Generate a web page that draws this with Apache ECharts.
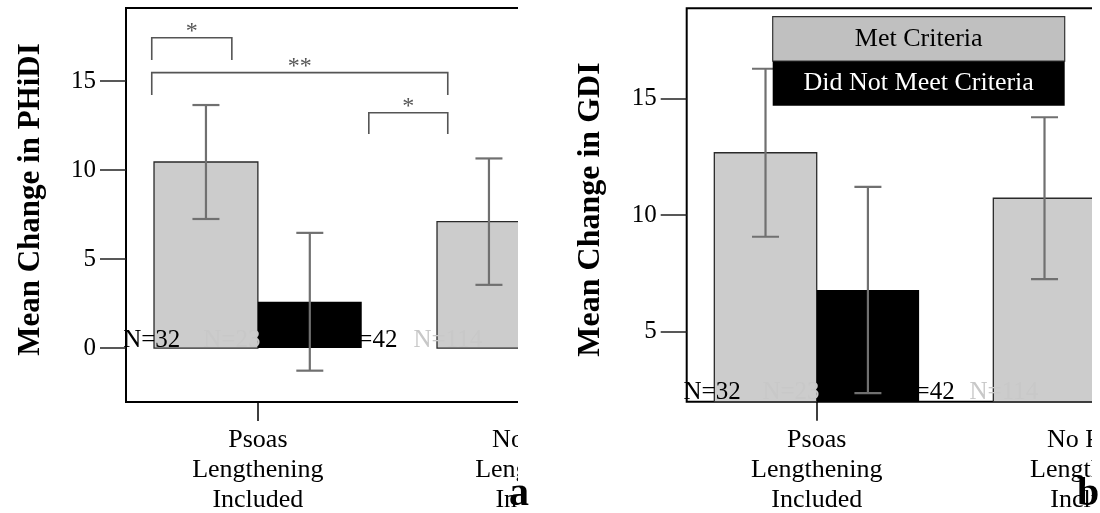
<!DOCTYPE html>
<html><head><meta charset="utf-8">
<script src="https://cdn.jsdelivr.net/npm/echarts@6/dist/echarts.min.js"></script>
<style>
html,body{margin:0;padding:0;background:#fff;}
#wrap{position:relative;width:1100px;height:513px;overflow:hidden;background:#fff}
.clip{position:absolute;top:0;height:513px;overflow:hidden}
#clipA{left:0;width:518px}
#clipB{left:550px;width:542px}
#chartA,#chartB{position:absolute;left:0;top:0;width:760px;height:513px}
#over{position:absolute;left:0;top:0;width:1100px;height:513px;pointer-events:none}
</style></head><body>
<div id="wrap">
 <div class="clip" id="clipA"><div id="chartA"></div></div>
 <div class="clip" id="clipB"><div id="chartB"></div></div>
 <div id="over"></div>
</div>
<script>
// ---------------- data ----------------
const groupPositions = [1, 2];
const groupLabels = ['Psoas\nLengthening\nIncluded', 'No Psoas\nLengthening\nIncluded'];
const seriesNames = ['Met Criteria', 'Did Not Meet Criteria'];

// Panel a: Mean change in PHiDI
const phidiMet = [10.45, 7.1];
const phidiMetErr = [3.2, 3.55];
const phidiNotMet = [2.6, null];      // second group hidden (cropped)
const phidiNotMetErr = [3.87, null];
const phidiTicks = [0, 5, 10, 15];

// Panel b: Mean change in GDI
const gdiMet = [12.67, 10.72];
const gdiMetErr = [3.6, 3.47];
const gdiNotMet = [6.79, null];
const gdiNotMetErr = [4.42, null];
const gdiTicks = [5, 10, 15];

// sample size labels
const nLabels = ['N=32', 'N=23', 'N=42', 'N=114'];
const nLabelX = [0.625, 0.908, 1.392, 1.671];

// significance brackets (panel a)
const bracketFrom = [0.625, 0.625, 1.392];
const bracketTo = [0.908, 1.671, 1.671];
const bracketTop = [17.43, 15.47, 13.22];
const bracketLeg = [16.18, 14.21, 12.02];
const bracketText = ['*', '**', '*'];

// ---------------- style ----------------
const FONT = '"Liberation Serif","Times New Roman",serif';
const BAR_W = 0.367;
const CAP_PX = 13.5;
const MET_FILL = '#cccccc';
const NOT_FILL = '#000000';
const ERR_COLOR = '#707070';
const N_COLORS = ['#000000', '#c8c8c8', '#000000', '#c8c8c8'];

function buildOption(p) {
  const W = 760;
  const plotW = p.pxPerUnit * (p.xMax - p.xMin);
  const base = Math.max(0, p.yMin);

  function barSeries(vals, side, fill, stroke) {
    const data = [];
    vals.forEach((v, i) => { if (v !== null) data.push([groupPositions[i], v]); });
    return {
      type: 'custom', clip: true, z: 2,
      data: data,
      encode: { x: 0, y: 1 },
      renderItem: function (params, api) {
        const x = api.value(0), v = api.value(1);
        const x0 = side < 0 ? x - BAR_W : x;
        const a = api.coord([x0, v]);
        const b = api.coord([x0 + BAR_W, base]);
        return {
          type: 'rect',
          shape: { x: a[0], y: Math.min(a[1], b[1]), width: b[0] - a[0], height: Math.abs(b[1] - a[1]) },
          style: { fill: fill, stroke: stroke, lineWidth: stroke ? 1.3 : 0 }
        };
      }
    };
  }
  function errSeries(vals, errs, side) {
    const data = [];
    vals.forEach((v, i) => { if (v !== null) data.push([groupPositions[i], v, errs[i]]); });
    return {
      type: 'custom', clip: true, z: 3,
      data: data,
      encode: { x: 0, y: 1 },
      renderItem: function (params, api) {
        const x = api.value(0) + side * BAR_W / 2, v = api.value(1), e = api.value(2);
        const top = api.coord([x, v + e]);
        const bot = api.coord([x, v - e]);
        const st = { stroke: ERR_COLOR, lineWidth: 2.2 };
        return {
          type: 'group',
          children: [
            { type: 'line', shape: { x1: top[0], y1: top[1], x2: bot[0], y2: bot[1] }, style: st },
            { type: 'line', shape: { x1: top[0] - CAP_PX, y1: top[1], x2: top[0] + CAP_PX, y2: top[1] }, style: st },
            { type: 'line', shape: { x1: bot[0] - CAP_PX, y1: bot[1], x2: bot[0] + CAP_PX, y2: bot[1] }, style: st }
          ]
        };
      }
    };
  }
  const nSeries = {
    type: 'custom', clip: false, z: 5,
    data: nLabels.map((t, i) => [nLabelX[i], base, i]),
    encode: { x: 0, y: 1 },
    renderItem: function (params, api) {
      const i = api.value(2);
      const pt = api.coord([api.value(0), api.value(1)]);
      return {
        type: 'text', x: pt[0], y: pt[1] + p.nDy,
        style: { text: nLabels[i], fill: N_COLORS[i], font: '25px ' + FONT, align: 'center', verticalAlign: 'bottom' }
      };
    }
  };
  const series = [
    barSeries(p.met, -1, MET_FILL, '#2a2a2a'),
    barSeries(p.notMet, 1, NOT_FILL, null),
    errSeries(p.met, p.metErr, -1),
    errSeries(p.notMet, p.notMetErr, 1),
    nSeries
  ];
  if (p.brackets) {
    series.push({
      type: 'custom', clip: false, z: 4,
      data: bracketText.map((t, i) => [bracketFrom[i], bracketTop[i], bracketTo[i], bracketLeg[i], i]),
      encode: { x: 0, y: 1 },
      renderItem: function (params, api) {
        const f = api.value(0), t = api.value(1), to = api.value(2), leg = api.value(3), i = api.value(4);
        const p1 = api.coord([f, leg]), p2 = api.coord([f, t]), p3 = api.coord([to, t]), p4 = api.coord([to, leg]);
        return {
          type: 'group',
          children: [
            { type: 'polyline', shape: { points: [p1, p2, p3, p4] }, style: { stroke: '#555', lineWidth: 1.6, fill: null } },
            { type: 'text', x: (p2[0] + p3[0]) / 2, y: p2[1] + 6,
              style: { text: bracketText[i], fill: '#555', font: '24px ' + FONT, align: 'center', verticalAlign: 'bottom' } }
          ]
        };
      }
    });
  }
  const opt = {
    animation: false,
    backgroundColor: 'transparent',
    grid: {
      left: p.gridLeft, top: p.gridTop, bottom: p.gridBottom,
      right: W - p.gridLeft - plotW,
      outerBoundsMode: 'none', containLabel: false,
      show: true, borderColor: '#000', borderWidth: 2, backgroundColor: 'transparent'
    },
    xAxis: {
      type: 'value', min: p.xMin, max: p.xMax,
      axisLine: { show: false, onZero: false },
      splitLine: { show: false },
      axisTick: { show: true, customValues: groupPositions, length: 19, inside: false, lineStyle: { color: '#000', width: 1.5 } },
      axisLabel: {
        customValues: groupPositions, margin: 23,
        formatter: function (v) { return groupLabels[Math.round(v) - 1]; },
        fontFamily: FONT, fontSize: 26, lineHeight: 30, color: '#000'
      }
    },
    yAxis: {
      type: 'value', min: p.yMin, max: p.yMax,
      axisLine: { show: false, onZero: false },
      splitLine: { show: false },
      axisTick: { show: true, customValues: p.ticks, length: 26, inside: false, lineStyle: { color: '#222', width: 1.5 } },
      axisLabel: { customValues: p.ticks, margin: 30, fontFamily: FONT, fontSize: 25, color: '#000' },
      name: p.title, nameLocation: 'middle', nameGap: p.nameGap,
      nameTextStyle: { fontFamily: FONT, fontWeight: 'bold', fontSize: p.titleSize, color: '#000', padding: p.titlePad }
    },
    series: series
  };
  if (p.legend) {
    const lx = 222.7, ly = 16.7, lw = 292, lh = 44.5;
    opt.graphic = [
      { type: 'rect', z: 10, shape: { x: lx, y: ly, width: lw, height: lh }, style: { fill: '#c0c0c0', stroke: '#333', lineWidth: 1.2 } },
      { type: 'text', z: 11, x: lx + lw / 2, y: ly + lh / 2, style: { text: seriesNames[0], fill: '#000', font: '26px ' + FONT, align: 'center', verticalAlign: 'middle' } },
      { type: 'rect', z: 10, shape: { x: lx, y: ly + lh, width: lw, height: lh }, style: { fill: '#000' } },
      { type: 'text', z: 11, x: lx + lw / 2, y: ly + lh * 1.5, style: { text: seriesNames[1], fill: '#fff', font: '26px ' + FONT, align: 'center', verticalAlign: 'middle' } }
    ];
  }
  return opt;
}

const chartA = echarts.init(document.getElementById('chartA'), null, { renderer: 'canvas' });
chartA.setOption(buildOption({
  yMin: -3.03, yMax: 19.1, xMin: 0.534, xMax: 2.466, gridLeft: 126, gridTop: 8, gridBottom: 111,
  pxPerUnit: 283, title: 'Mean Change in PHiDI', nameGap: 80, titleSize: 31, titlePad: [0, 0, 0, 11],
  ticks: phidiTicks, nDy: 5,
  met: phidiMet, metErr: phidiMetErr, notMet: phidiNotMet, notMetErr: phidiNotMetErr, brackets: true, legend: false
}));

const chartB = echarts.init(document.getElementById('chartB'), null, { renderer: 'canvas' });
chartB.setOption(buildOption({
  yMin: 2.0, yMax: 18.86, xMin: 0.534, xMax: 2.466, gridLeft: 136.7, gridTop: 8.3, gridBottom: 111.3,
  pxPerUnit: 279, title: 'Mean Change in GDI', nameGap: 80, titleSize: 32, titlePad: [0, 9, 0, 0],
  ticks: gdiTicks, nDy: 3,
  met: gdiMet, metErr: gdiMetErr, notMet: gdiNotMet, notMetErr: gdiNotMetErr, brackets: false, legend: true
}));

const over = echarts.init(document.getElementById('over'), null, { renderer: 'canvas' });
over.setOption({
  animation: false,
  backgroundColor: 'transparent',
  graphic: [
    { type: 'text', x: 519, y: 515, style: { text: 'a', fill: '#000', font: 'bold 40px ' + FONT, align: 'center', verticalAlign: 'bottom' } },
    { type: 'text', x: 1088, y: 515, style: { text: 'b', fill: '#000', font: 'bold 40px ' + FONT, align: 'center', verticalAlign: 'bottom' } }
  ]
});
</script>
</body></html>
